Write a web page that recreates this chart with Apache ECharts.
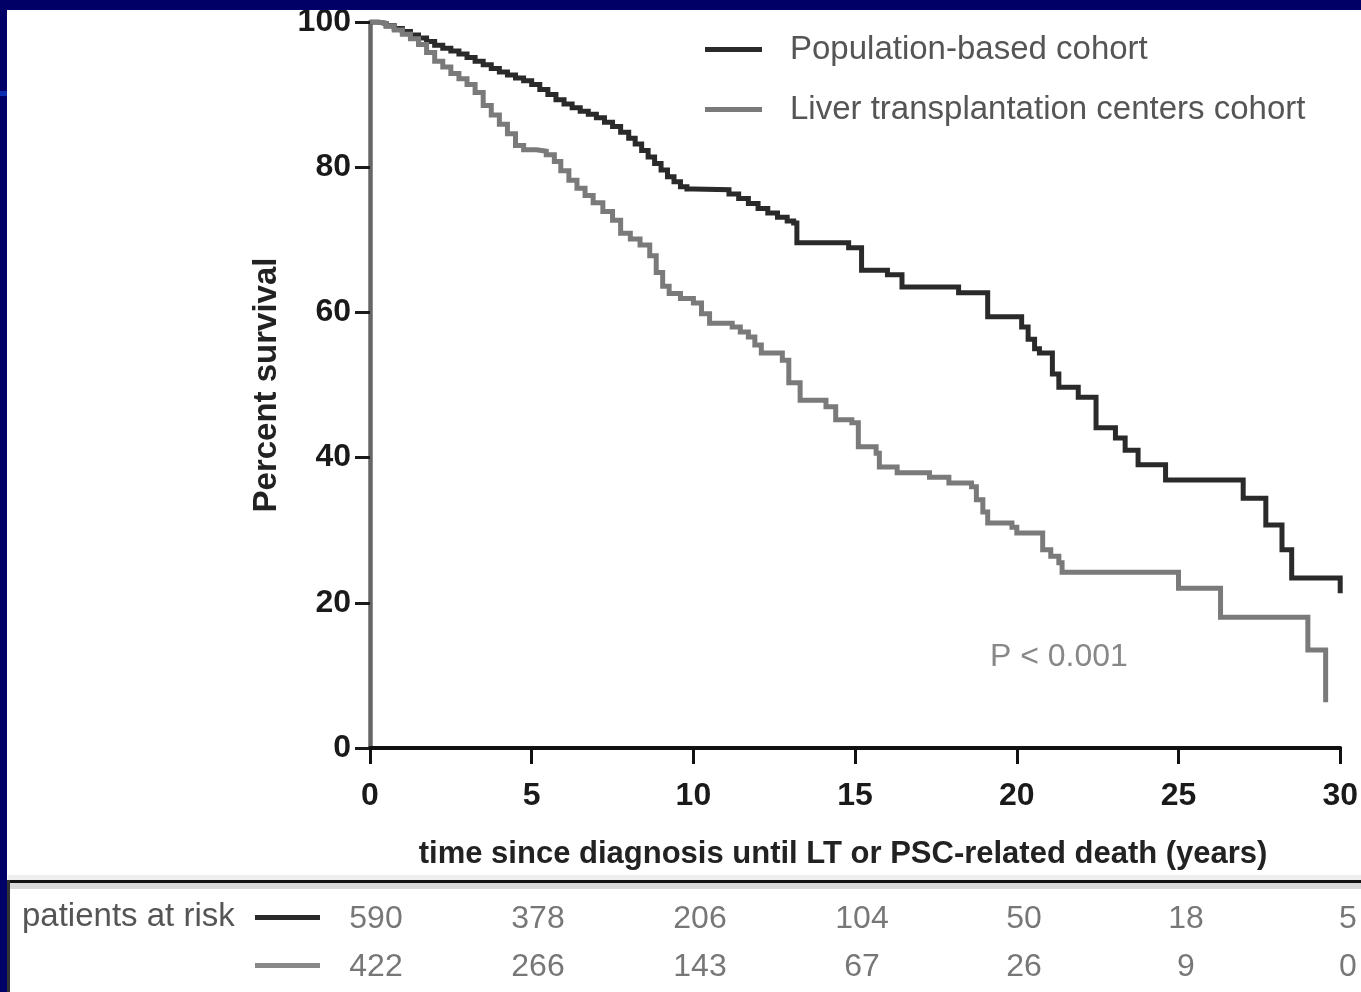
<!DOCTYPE html>
<html>
<head>
<meta charset="utf-8">
<script src="https://cdn.jsdelivr.net/npm/echarts@6/dist/echarts.min.js"></script>
<style>
  html, body { margin: 0; padding: 0; background: #ffffff; }
  #chart { width: 1361px; height: 992px; }
</style>
</head>
<body>
<div id="chart"></div>
<script>
// ---- data ----
const seriesNames = ['Population-based cohort', 'Liver transplantation centers cohort'];
// [years, percent survival] — Kaplan-Meier step points
const popCurve = [
  [0,100],[0.25,99.8],[0.5,99.5],[0.75,99.1],[1,98.7],[1.25,98.2],[1.5,97.8],[1.75,97.3],[2,96.8],
  [2.25,96.4],[2.5,96],[2.75,95.6],[3,95.1],[3.25,94.6],[3.5,94.1],[3.75,93.6],[4,93.1],[4.25,92.7],
  [4.5,92.3],[4.75,91.9],[5,91.4],[5.25,90.7],[5.5,90],[5.75,89.3],[6,88.7],[6.25,88.2],[6.5,87.7],
  [6.75,87.3],[7,86.8],[7.25,86.2],[7.5,85.6],[7.75,84.8],[8,84],[8.2,83.2],[8.4,82.3],[8.6,81.4],
  [8.8,80.5],[9,79.6],[9.2,78.7],[9.4,78],[9.6,77.3],[9.8,77],[10,76.9],[11.1,76.3],[11.4,75.7],
  [11.7,75],[12,74.3],[12.3,73.7],[12.6,73.1],[12.9,72.6],[13.1,72.3],[13.2,69.6],[14.8,68.9],
  [15.2,65.8],[16,65.2],[16.45,63.5],[18.2,62.7],[19.1,59.4],[20.15,58],[20.35,56.3],[20.55,55],
  [20.7,54.4],[21.1,51.5],[21.3,49.7],[21.9,48.3],[22.45,44.1],[23.05,42.7],[23.35,41.0],[23.75,39.0],
  [24.6,36.9],[27.0,34.4],[27.7,30.7],[28.2,27.3],[28.5,23.4],[30.0,21.3]
];
const ltCurve = [
  [0,100],[0.25,99.8],[0.5,99.4],[0.75,98.9],[1,98.3],[1.25,97.7],[1.5,96.9],[1.75,95.8],[2,94.6],
  [2.25,93.8],[2.5,92.9],[2.75,92.2],[3,91.4],[3.25,90.3],[3.5,88.5],[3.75,87.2],[4,85.9],[4.25,84.6],
  [4.5,83.0],[4.75,82.4],[5.15,82.2],[5.45,81.7],[5.7,80.8],[5.9,79.5],[6.15,78.2],[6.4,77.1],
  [6.65,76.1],[6.9,75.1],[7.2,73.9],[7.5,72.7],[7.75,70.9],[8.05,70.1],[8.35,69.3],[8.65,67.8],
  [8.85,65.5],[9.05,63.6],[9.25,62.6],[9.6,61.9],[10.0,61.3],[10.25,59.8],[10.5,58.5],[11.2,58.0],
  [11.45,57.3],[11.7,56.6],[11.9,55.5],[12.1,54.4],[12.75,53.4],[12.95,50.3],[13.3,47.9],[14.1,47.0],
  [14.4,45.2],[14.9,44.8],[15.1,41.5],[15.65,40.6],[15.75,38.7],[16.3,37.9],[17.3,37.3],[17.9,36.5],
  [18.6,36.0],[18.75,34.2],[18.95,32.5],[19.1,31.0],[19.85,30.4],[20.0,29.6],[20.8,27.3],[21.05,26.4],
  [21.3,25.5],[21.4,24.2],[25.0,22.0],[26.3,18.0],[29.0,13.5],[29.55,6.3]
];
const atRiskTimes = [0, 5, 10, 15, 20, 25, 30];
const popAtRisk = [590, 378, 206, 104, 50, 18, 5];
const ltAtRisk = [422, 266, 143, 67, 26, 9, 0];
const xAxisTitle = 'time since diagnosis until LT or PSC-related death (years)';
const yAxisTitle = 'Percent survival';
const atRiskTitle = 'patients at risk';
const pValueText = 'P < 0.001';

// ---- styles ----
const FONT = "'Liberation Sans', Arial, sans-serif";
const BLACK = '#2a2a2a';
const GREY = '#7a7a7a';

const riskData = [];
atRiskTimes.forEach((t, i) => {
  riskData.push({ value: [t, 0, popAtRisk[i]] });
  riskData.push({ value: [t, 1, ltAtRisk[i]] });
});

const chart = echarts.init(document.getElementById('chart'), null, { renderer: 'canvas' });
chart.setOption({
  backgroundColor: '#ffffff',
  animation: false,
  textStyle: { fontFamily: FONT },
  legend: {
    orient: 'vertical', left: 705, top: 32, padding: 0,
    itemWidth: 57, itemHeight: 5, itemGap: 25, icon: 'rect',
    textStyle: { fontFamily: FONT, fontSize: 33, color: '#555', lineHeight: 35, padding: [0, 0, 0, 23] },
    data: seriesNames
  },
  grid: [
    { left: 370, right: 19, top: 22, bottom: 244, containLabel: false },
    { left: 370, right: 19, top: 895, height: 96, containLabel: false }
  ],
  xAxis: [
    {
      type: 'value', gridIndex: 0, min: 0, max: 30, interval: 5,
      name: xAxisTitle, nameLocation: 'middle', nameGap: 91,
      nameTextStyle: { fontFamily: FONT, fontSize: 31, fontWeight: 'bold', color: '#222', padding: [0, 24, 0, 0] },
      axisLine: { show: true, lineStyle: { color: '#111', width: 4 } },
      axisTick: { show: true, length: 16, lineStyle: { color: '#111', width: 3 } },
      axisLabel: { fontFamily: FONT, fontSize: 32, fontWeight: 'bold', color: '#1a1a1a', margin: 32 },
      splitLine: { show: false }
    },
    { type: 'value', gridIndex: 1, min: 0, max: 30, show: false }
  ],
  yAxis: [
    {
      type: 'value', gridIndex: 0, min: 0, max: 100, interval: 20,
      name: yAxisTitle, nameLocation: 'middle', nameGap: 87, nameRotate: 90,
      nameTextStyle: { fontFamily: FONT, fontSize: 33, fontWeight: 'bold', color: '#222' },
      axisLine: { show: true, lineStyle: { color: '#666', width: 4.5 } },
      axisTick: { show: true, length: 15, lineStyle: { color: '#1a1a1a', width: 3 } },
      axisLabel: { fontFamily: FONT, fontSize: 32, fontWeight: 'bold', color: '#1a1a1a', margin: 19 },
      splitLine: { show: false }
    },
    { type: 'value', gridIndex: 1, min: -0.5, max: 1.5, inverse: true, show: false }
  ],
  series: [
    {
      name: seriesNames[0], type: 'line', step: 'end', xAxisIndex: 0, yAxisIndex: 0,
      showSymbol: false, symbol: 'none', data: popCurve, color: BLACK,
      lineStyle: { color: BLACK, width: 5, join: 'miter' }, z: 3
    },
    {
      name: seriesNames[1], type: 'line', step: 'end', xAxisIndex: 0, yAxisIndex: 0,
      showSymbol: false, symbol: 'none', data: ltCurve, color: GREY,
      lineStyle: { color: GREY, width: 5, join: 'miter' }, z: 4
    },
    {
      name: 'at risk', type: 'scatter', xAxisIndex: 1, yAxisIndex: 1, symbolSize: 0,
      data: riskData, silent: true,
      label: {
        show: true, position: 'inside', offset: [6, 0],
        fontFamily: FONT, fontSize: 32, color: '#555',
        formatter: p => String(p.value[2])
      }
    }
  ],
  graphic: [
    { type: 'text', left: 990, top: 641, z: 10,
      style: { text: pValueText, font: "32px 'Liberation Sans', Arial, sans-serif", fill: '#888' } },
    // at-risk table frame
    { type: 'rect', shape: { x: 8, y: 875, width: 1353, height: 5 }, style: { fill: '#eeeeee' }, z: 5 },
    { type: 'rect', shape: { x: 8, y: 880, width: 1353, height: 3 }, style: { fill: '#111111' }, z: 6 },
    { type: 'rect', shape: { x: 8, y: 883, width: 1353, height: 6 }, style: { fill: '#d8d8d8' }, z: 5 },
    { type: 'rect', shape: { x: 7, y: 880, width: 3, height: 112 }, style: { fill: '#333333' }, z: 6 },
    { type: 'text', left: 22, top: 900, z: 10,
      style: { text: atRiskTitle, font: "33px 'Liberation Sans', Arial, sans-serif", fill: '#555' } },
    { type: 'rect', shape: { x: 255, y: 915, width: 65, height: 5 }, style: { fill: BLACK }, z: 6 },
    { type: 'rect', shape: { x: 255, y: 963, width: 65, height: 5 }, style: { fill: '#888' }, z: 6 },
    // navy slide border
    { type: 'rect', shape: { x: 0, y: 0, width: 1361, height: 10 }, style: { fill: '#000066' }, z: 100 },
    { type: 'rect', shape: { x: 0, y: 0, width: 7, height: 992 }, style: { fill: '#000066' }, z: 100 },
    { type: 'rect', shape: { x: 0, y: 91, width: 7, height: 5 }, style: { fill: '#0a2fb0' }, z: 101 }
  ]
});
</script>
</body>
</html>
